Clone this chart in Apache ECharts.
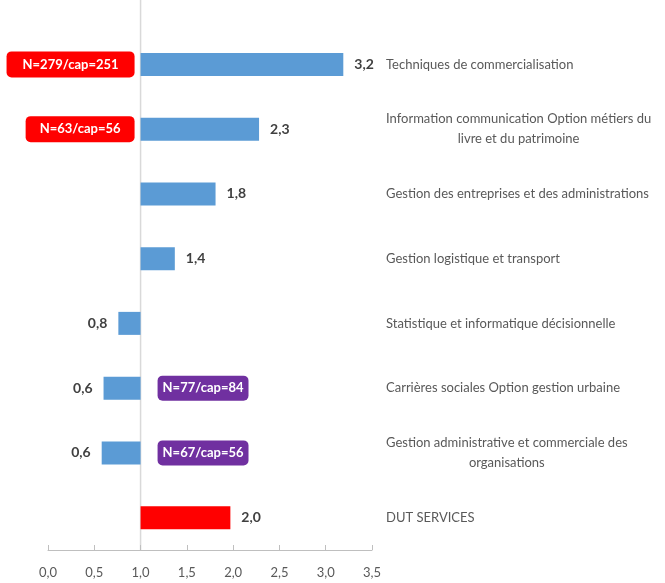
<!DOCTYPE html>
<html>
<head>
<meta charset="utf-8">
<script src="https://cdn.jsdelivr.net/npm/echarts@6/dist/echarts.min.js"></script>
<style>
  html, body { margin: 0; padding: 0; background: #fff; }
  #chart { width: 665px; height: 583px; }
</style>
</head>
<body>
<div id="chart"></div>
<script>
// formations, du haut vers le bas
const categories = [
  "Techniques de commercialisation",
  "Information communication Option métiers du\nlivre et du patrimoine",
  "Gestion des entreprises et des administrations",
  "Gestion logistique et transport",
  "Statistique et informatique décisionnelle",
  "Carrières sociales Option gestion urbaine",
  "Gestion administrative et commerciale des\norganisations",
  "DUT SERVICES"
];
// indices (base 1)
const scores = [3.19, 2.28, 1.81, 1.37, 0.76, 0.60, 0.58, 1.97];
const baseline = 1;
const tickLabels = ["0,0", "0,5", "1,0", "1,5", "2,0", "2,5", "3,0", "3,5"];
// effectifs / capacité
const notes = [
  [0, "N=279/cap=251"],
  [1, "N=63/cap=56"],
  [5, "N=77/cap=84"],
  [6, "N=67/cap=56"]
];

const fmt = v => v.toFixed(1).replace(".", ",");
const font = "Lato, 'Liberation Sans', sans-serif";

let myChart = echarts.init(document.getElementById("chart"));

let option = {
  animation: false,
  grid: { left: 48, right: 293, top: 32, bottom: 33 },
  xAxis: {
    type: "value",
    min: 0,
    max: 3.5,
    interval: 0.5,
    splitLine: { show: false },
    axisLine: { show: true, lineStyle: { color: "#bfbfbf" } },
    axisTick: { show: true, inside: true, length: 5, lineStyle: { color: "#bfbfbf" } },
    axisLabel: {
      color: "#595959",
      fontSize: 13,
      fontFamily: font,
      margin: 16,
      formatter: (v) => tickLabels[Math.round(v * 2)]
    }
  },
  yAxis: {
    type: "category",
    data: categories,
    inverse: true,
    position: "right",
    axisLine: { show: false },
    axisTick: { show: false },
    splitLine: { show: false },
    axisLabel: {
      margin: 14,
      align: "left",
      color: "#595959",
      fontSize: 13,
      fontFamily: font,
      lineHeight: 20,
      formatter: (v) => v.split("\n").map(s => "{c|" + s + "}").join("\n"),
      rich: {
        c: { align: "center", color: "#595959", fontSize: 13, fontFamily: font, lineHeight: 20 }
      }
    }
  },
  series: [
    {
      name: "Placeholder",
      type: "bar",
      stack: "Total",
      silent: true,
      barWidth: 23,
      itemStyle: { color: "transparent" },
      data: scores.map(v => Math.min(v, baseline))
    },
    {
      name: "Indice",
      type: "bar",
      stack: "Total",
      barWidth: 23,
      itemStyle: { color: "#5b9bd5" },
      data: scores.map((v, i) => ({
        value: Math.abs(v - baseline),
        itemStyle: i === scores.length - 1 ? { color: "#ff0000" } : undefined,
        label: { position: v >= baseline ? "right" : "left" }
      })),
      label: {
        show: true,
        distance: 11,
        color: "#404040",
        fontWeight: "bold",
        fontSize: 14,
        fontFamily: font,
        formatter: (p) => fmt(scores[p.dataIndex])
      }
    },
    {
      name: "Notes",
      type: "scatter",
      symbolSize: 0,
      silent: true,
      itemStyle: { opacity: 1 },
      data: notes.map(([i, txt]) => {
        const left = scores[i] >= baseline;
        const side = txt.length > 11 ? 16 : 14;
        return {
          value: [baseline, i],
          name: txt,
          label: left
            ? { position: "left", distance: 6, backgroundColor: "#ff0000", padding: [6, side, 5, side] }
            : { position: "right", distance: 17, backgroundColor: "#7030a0", padding: [5, 5, 5, 5] }
        };
      }),
      label: {
        show: true,
        opacity: 1,
        color: "#fff",
        fontWeight: "bold",
        fontSize: 13,
        lineHeight: 15,
        fontFamily: font,
        borderRadius: 5,
        formatter: (p) => p.name
      }
    }
  ]
};
myChart.setOption(option);

// ligne de référence à 1,0
const x1 = myChart.convertToPixel({ xAxisIndex: 0 }, baseline);
myChart.setOption({
  graphic: [{
    type: "line",
    z: 0,
    shape: { x1: x1, y1: 0, x2: x1, y2: 550 },
    style: { stroke: "#d9d9d9", lineWidth: 1.5 }
  }]
});
</script>
</body>
</html>
